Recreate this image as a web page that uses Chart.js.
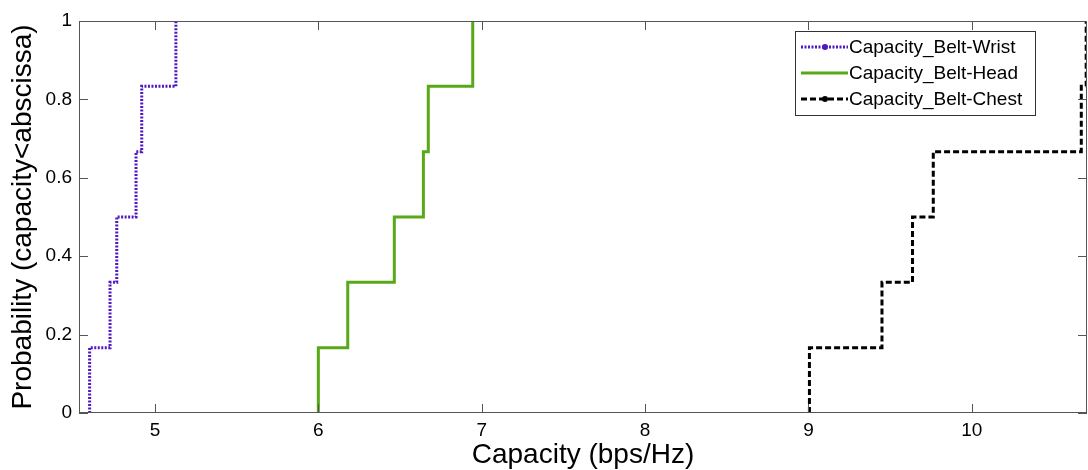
<!DOCTYPE html>
<html>
<head>
<meta charset="utf-8">
<script src="https://cdn.jsdelivr.net/npm/chart.js@4"></script>
<style>
  html, body { margin: 0; padding: 0; background: #fff; }
  #wrap { position: relative; width: 1088px; height: 470px; }
</style>
</head>
<body>
<div id="wrap"><canvas id="cdf"></canvas></div>
<script>
// ---- data ----
const probLevels = [0.1667, 0.3333, 0.5, 0.6667, 0.8333, 1];
const wristCapacity = [4.60, 4.725, 4.766, 4.884, 4.919, 5.128];
const headCapacity = [6.00, 6.18, 6.465, 6.643, 6.673, 6.945];
const chestCapacity = [9.006, 9.45, 9.637, 9.764, 10.67, 10.70];
const xTicks = [5, 6, 7, 8, 9, 10];
const yTicks = [0, 0.2, 0.4, 0.6, 0.8, 1];
const seriesNames = ["Capacity_Belt-Wrist", "Capacity_Belt-Head", "Capacity_Belt-Chest"];

// empirical CDF points: start at 0 then one step per sample
const cdfPoints = (caps) =>
  [{ x: caps[0], y: 0 }].concat(caps.map((c, i) => ({ x: c, y: probLevels[i] })));

const axisColor = "#555";

// box around the plot + inward tick marks, like matlab
const boxPlugin = {
  id: "box",
  afterDatasetsDraw(chart) {
    const { ctx, chartArea: a, scales } = chart;
    ctx.save();
    ctx.strokeStyle = axisColor;
    ctx.lineWidth = 1;
    ctx.strokeRect(a.left + 0.5, a.top + 0.5, a.right - a.left - 1, a.bottom - a.top - 1);
    ctx.beginPath();
    scales.x.ticks.forEach((t) => {
      const px = Math.round(scales.x.getPixelForValue(t.value)) + 0.5;
      ctx.moveTo(px, a.bottom); ctx.lineTo(px, a.bottom - 9);
      ctx.moveTo(px, a.top); ctx.lineTo(px, a.top + 9);
    });
    scales.y.ticks.forEach((t) => {
      const py = Math.round(scales.y.getPixelForValue(t.value)) + 0.5;
      ctx.moveTo(a.left, py); ctx.lineTo(a.left + 9, py);
      ctx.moveTo(a.right, py); ctx.lineTo(a.right - 9, py);
    });
    ctx.stroke();
    ctx.restore();
  },
};

// legend box inside the top right of the plot
const legendPlugin = {
  id: "boxLegend",
  afterDraw(chart) {
    const { ctx } = chart;
    const x0 = 795, y0 = 31, w = 240, h = 84;
    ctx.save();
    ctx.fillStyle = "#fff";
    ctx.fillRect(x0, y0, w, h);
    ctx.strokeStyle = "#333";
    ctx.lineWidth = 1;
    ctx.strokeRect(x0 + 0.5, y0 + 0.5, w, h);
    ctx.font = "19px 'Liberation Sans', Arial, sans-serif";
    ctx.textBaseline = "middle";
    chart.data.datasets.forEach((ds, i) => {
      const y = 47 + i * 26;
      ctx.strokeStyle = ds.borderColor;
      ctx.lineWidth = ds.borderWidth;
      ctx.setLineDash(ds.borderDash || []);
      ctx.beginPath();
      ctx.moveTo(801, y); ctx.lineTo(848, y);
      ctx.stroke();
      ctx.setLineDash([]);
      if (ds.legendMarker) {
        ctx.fillStyle = ds.borderColor;
        ctx.beginPath();
        ctx.arc(825, y, 3, 0, Math.PI * 2);
        ctx.fill();
      }
      ctx.fillStyle = "#000";
      ctx.fillText(ds.label, 849, y + 1);
    });
    ctx.restore();
  },
};

const tickFont = { size: 19, family: "'Liberation Sans', Arial, sans-serif" };
const titleFont = { size: 28, lineHeight: 1, family: "'Liberation Sans', Arial, sans-serif" };

new Chart(document.getElementById("cdf"), {
  type: "line",
  data: {
    datasets: [
      {
        label: seriesNames[0],
        data: cdfPoints(wristCapacity),
        borderColor: "#5018c0",
        borderWidth: 3,
        borderDash: [2, 1.5],
        legendMarker: true,
      },
      {
        label: seriesNames[1],
        data: cdfPoints(headCapacity),
        borderColor: "#58a818",
        borderWidth: 3,
      },
      {
        label: seriesNames[2],
        data: cdfPoints(chestCapacity),
        borderColor: "#000",
        borderWidth: 3,
        borderDash: [6, 3],
        legendMarker: true,
      },
    ],
  },
  options: {
    responsive: true,
    maintainAspectRatio: false,
    animation: false,
    elements: {
      line: { stepped: "before", tension: 0, borderCapStyle: "butt" },
      point: { radius: 0, hoverRadius: 0 },
    },
    layout: { padding: { top: 21, right: 1, left: 0, bottom: 0 } },
    plugins: { legend: { display: false }, tooltip: { enabled: false } },
    scales: {
      x: {
        type: "linear",
        min: 4.535,
        max: 10.705,
        afterBuildTicks: (s) => { s.ticks = xTicks.map((v) => ({ value: v })); },
        afterFit: (s) => { s.height = 57; },
        grid: { display: false, drawTicks: false },
        border: { display: false },
        ticks: { color: "#000", padding: 6, font: tickFont, callback: (v) => String(v) },
        title: {
          display: true,
          text: "Capacity (bps/Hz)",
          color: "#000",
          font: titleFont,
          padding: { top: 0, bottom: 1 },
        },
      },
      y: {
        type: "linear",
        min: 0,
        max: 1,
        afterBuildTicks: (s) => { s.ticks = yTicks.map((v) => ({ value: v })); },
        afterFit: (s) => { s.width = 79; },
        grid: { display: false, drawTicks: false },
        border: { display: false },
        ticks: { color: "#000", padding: 7, font: tickFont, callback: (v) => String(v) },
        title: {
          display: true,
          text: "Probability (capacity<abscissa)",
          color: "#000",
          font: titleFont,
          padding: { top: 9, bottom: 0 },
        },
      },
    },
  },
  plugins: [boxPlugin, legendPlugin],
});
</script>
</body>
</html>
